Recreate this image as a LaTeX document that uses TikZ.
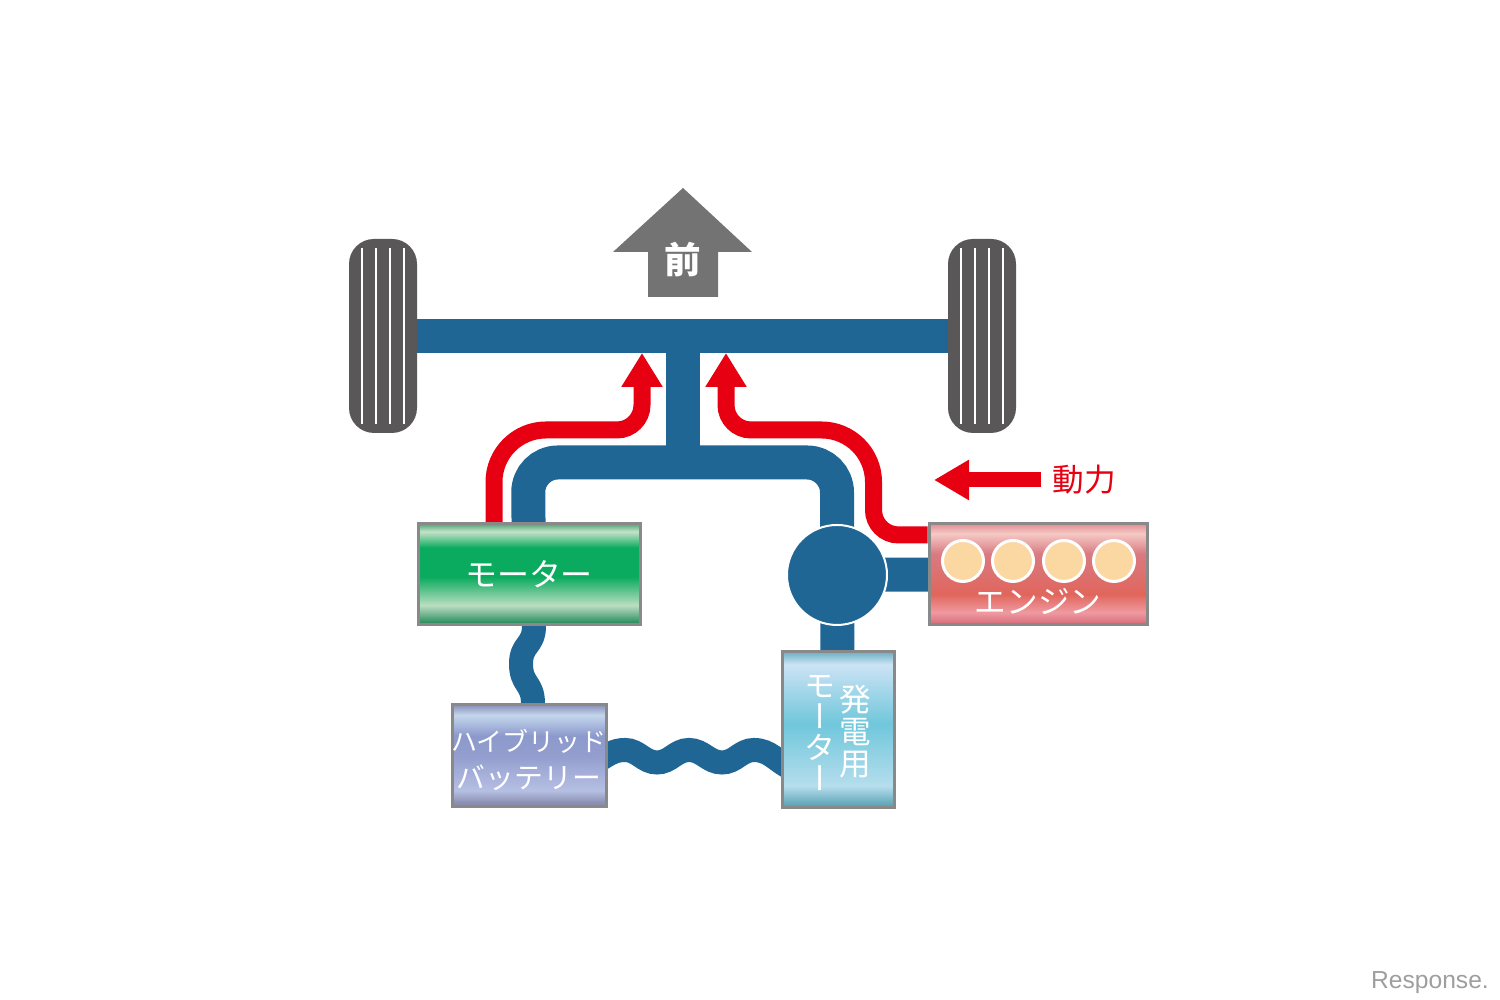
\documentclass[tikz,border=0pt]{standalone}
\usepackage{xcolor}
\usepackage{fontspec}
\usepackage{tikz}
\usetikzlibrary{arrows.meta, calc, backgrounds}

\setmainfont{Noto Sans CJK JP}
\newfontfamily\cjkvert[RawFeature={+vert}]{Noto Sans CJK JP}
\setsansfont{Liberation Sans}

\definecolor{shaftblue}{HTML}{1F6695}
\definecolor{flowred}{HTML}{E60012}
\definecolor{tiregray}{HTML}{595757}
\definecolor{frontgray}{HTML}{737373}
\definecolor{boxgray}{HTML}{898989}
\definecolor{pistonfill}{HTML}{FBD7A1}

\pgfdeclareverticalshading{motorshade}{100bp}{
  rgb(0bp)=(0.18,0.56,0.38);
  rgb(26bp)=(0.18,0.56,0.38);
  rgb(34.5bp)=(0.73,0.87,0.76);
  rgb(48.5bp)=(0.04,0.67,0.37);
  rgb(63bp)=(0.04,0.67,0.37);
  rgb(71bp)=(0.77,0.89,0.79);
  rgb(75bp)=(0.29,0.64,0.45);
  rgb(100bp)=(0.29,0.64,0.45)}
\pgfdeclareverticalshading{batteryshade}{100bp}{
  rgb(0bp)=(0.54,0.56,0.69);
  rgb(27bp)=(0.54,0.56,0.69);
  rgb(33bp)=(0.71,0.75,0.89);
  rgb(50bp)=(0.58,0.62,0.81);
  rgb(60bp)=(0.55,0.60,0.80);
  rgb(70bp)=(0.77,0.84,0.93);
  rgb(75bp)=(0.54,0.57,0.72);
  rgb(100bp)=(0.54,0.57,0.72)}
\pgfdeclareverticalshading{genshade}{100bp}{
  rgb(0bp)=(0.37,0.65,0.71);
  rgb(26bp)=(0.37,0.65,0.71);
  rgb(32bp)=(0.71,0.87,0.93);
  rgb(52bp)=(0.44,0.78,0.86);
  rgb(71bp)=(0.80,0.89,0.96);
  rgb(75bp)=(0.43,0.69,0.77);
  rgb(100bp)=(0.43,0.69,0.77)}
\pgfdeclareverticalshading{engineshade}{100bp}{
  rgb(0bp)=(0.85,0.45,0.50);
  rgb(26bp)=(0.85,0.45,0.50);
  rgb(31bp)=(0.94,0.60,0.63);
  rgb(40bp)=(0.88,0.40,0.36);
  rgb(60bp)=(0.85,0.48,0.51);
  rgb(70bp)=(0.96,0.79,0.77);
  rgb(75bp)=(0.88,0.54,0.57);
  rgb(100bp)=(0.88,0.54,0.57)}

\begin{document}
\begin{tikzpicture}[
  unitbox/.style={draw=boxgray, line width=0.03cm, rectangle, inner sep=0pt, text=white, align=center},
  tire/.style={rectangle, rounded corners=0.25cm, fill=tiregray, minimum width=0.68cm, minimum height=1.94cm},
  shaft/.style={line width=0.34cm, shaftblue},
  wire/.style={line width=0.24cm, shaftblue},
  flow/.style={-{Triangle[length=0.34cm, width=0.39cm]}, line width=0.17cm, flowred},
  piston/.style={circle, fill=pistonfill, draw=white, line width=0.03cm, minimum size=0.41cm, inner sep=0pt}
]
\useasboundingbox (0,0) rectangle (15,10);

% wheels
\node[tire] (tireL) at (3.83, 6.64) {};
\node[tire] (tireR) at (9.82, 6.64) {};
\foreach \gx in {-0.21, -0.07, 0.07, 0.21} {
  \draw[white, line width=0.02cm] ([xshift=\gx cm, yshift=0.88cm]tireL.center) -- ([xshift=\gx cm, yshift=-0.88cm]tireL.center);
  \draw[white, line width=0.02cm] ([xshift=\gx cm, yshift=0.88cm]tireR.center) -- ([xshift=\gx cm, yshift=-0.88cm]tireR.center);
}

% forward marker
\fill[frontgray] (6.83, 8.12) -- (7.52, 7.48) -- (7.18, 7.48) -- (7.18, 7.03) -- (6.48, 7.03) -- (6.48, 7.48) -- (6.13, 7.48) -- cycle;
\node[text=white, font=\fontsize{10.4}{12}\selectfont\bfseries, inner sep=0pt] (front) at (6.83, 7.40) {前};

% units
\node[unitbox, shading=motorshade, minimum width=2.22cm, minimum height=1.01cm, font=\fontsize{9.1}{11}\selectfont] (motor) at (5.29, 4.26) {モーター};
\node[unitbox, shading=engineshade, minimum width=2.18cm, minimum height=1.01cm] (engine) at (10.38, 4.26) {};
\node[unitbox, shading=batteryshade, minimum width=1.54cm, minimum height=1.02cm] (battery) at (5.29, 2.44) {};
\node[unitbox, shading=genshade, minimum width=1.12cm, minimum height=1.56cm] (gen) at (8.38, 2.70) {};
\node[circle, fill=shaftblue, draw=white, line width=0.02cm, minimum size=1.00cm, inner sep=0pt] (hub) at (8.37, 4.25) {};

\node[text=white, inner sep=0pt, align=center, font=\fontsize{7.4}{10.4}\selectfont] (batterytext) at (5.29, 2.40) {ハイブリッド\\{\fontsize{8.2}{10.4}\selectfont バッテリー}};
\node[text=white, inner sep=0pt, font=\fontsize{9}{11}\selectfont] (enginetext) at (10.38, 3.98) {エンジン};
\node[text=white, inner sep=0pt, align=center, font=\fontsize{9}{8.9}\cjkvert] (gentextA) at (8.20, 2.67) {モ\\ー\\タ\\ー};
\node[text=white, inner sep=0pt, align=center, font=\fontsize{9}{9.1}\selectfont] (gentextB) at (8.55, 2.68) {発\\電\\用};

\foreach \px/\pname in {9.63/p1, 10.13/p2, 10.64/p3, 11.14/p4} {
  \node[piston] (\pname) at (\px, 4.39) {};
}

% power label
\node[text=flowred, inner sep=0.11cm, font=\fontsize{9}{11}\selectfont] (power) at (10.84, 5.20) {動力};
\coordinate (powertip) at (9.34, 5.20);
\draw[-{Triangle[length=0.35cm, width=0.38cm]}, line width=0.15cm, flowred] (power.west) -- (powertip);

\begin{scope}[on background layer]
% drive shafts
\coordinate (tee) at (6.83, 5.375);
\coordinate (axlemid) at (6.83, 6.64);
\coordinate (loopL) at (5.28, 5.375);
\coordinate (loopR) at (8.37, 5.375);
\draw[shaft] (tireL.center) -- (tireR.center);
\draw[shaft] (axlemid) -- (tee);
\draw[shaft, rounded corners=0.30cm] (motor.center) -- (loopL) -- (loopR) -- (hub.center);
\draw[shaft] (hub.center) -- (engine.center);
\draw[shaft] (hub.center) -- (gen.center);

% electric links
\draw[wire] ([xshift=0.05cm, yshift=0.10cm]motor.south) -- ([xshift=0.05cm]motor.south) to[out=-90, in=90, looseness=1.3] (5.21, 3.36) to[out=-90, in=90, looseness=1.3] ([xshift=0.04cm]battery.north) -- ([xshift=0.04cm, yshift=-0.10cm]battery.north);
\draw[wire] ([xshift=-0.10cm, yshift=-0.05cm]battery.east) to[out=30, in=180] (6.25, 2.50) to[out=0, in=180] (6.57, 2.375) to[out=0, in=180] (6.89, 2.50) to[out=0, in=180] (7.22, 2.375) to[out=0, in=180] (7.54, 2.50) to[out=0, in=155] ([xshift=0.10cm, yshift=-0.38cm]gen.west);

% power flow
\draw[flow] ([xshift=-0.35cm]motor.north) [rounded corners=0.52cm] -- (4.94, 5.70) [rounded corners=0.25cm] -- (6.42, 5.70) -- (6.42, 6.47);
\draw[flow] ([yshift=0.39cm]engine.west) [rounded corners=0.25cm] -- (8.735, 4.65) [rounded corners=0.52cm] -- (8.735, 5.70) [rounded corners=0.25cm] -- (7.26, 5.70) -- (7.26, 6.47);
\end{scope}

% watermark
\node[text=black!38, inner sep=0pt, font=\fontsize{7}{8}\sffamily] (brand) at (14.30, 0.17) {Response.};

\end{tikzpicture}
\end{document}
